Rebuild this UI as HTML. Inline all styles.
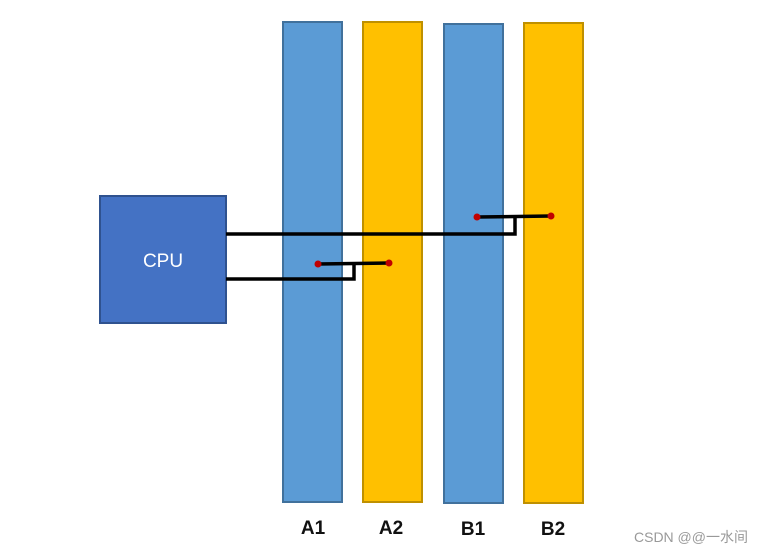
<!DOCTYPE html>
<html><head><meta charset="utf-8"><style>
html,body{margin:0;padding:0;background:#fff;width:769px;height:553px;overflow:hidden}
</style></head><body>
<svg width="769" height="553" xmlns="http://www.w3.org/2000/svg">
<rect x="283" y="22" width="59" height="480" fill="#5b9bd5" stroke="#41719c" stroke-width="2"/>
<rect x="363" y="22" width="59" height="480" fill="#ffc000" stroke="#bf9000" stroke-width="2"/>
<rect x="444" y="24" width="59" height="479" fill="#5b9bd5" stroke="#41719c" stroke-width="2"/>
<rect x="524" y="23" width="59" height="480" fill="#ffc000" stroke="#bf9000" stroke-width="2"/>
<rect x="100" y="196" width="126" height="127" fill="#4472c4" stroke="#2f528f" stroke-width="2"/>
<text x="163" y="267" font-family="Liberation Sans, sans-serif" font-size="19" fill="#fff" text-anchor="middle">CPU</text>
<g fill="none" stroke="#000" stroke-width="3.5">
<polyline points="226,234 515,234 515,217"/>
<line x1="477" y1="217" x2="551" y2="216"/>
<polyline points="226,279 354,279 354,264"/>
<line x1="318" y1="264" x2="389" y2="263"/>
</g>
<g fill="#c00000">
<circle cx="477" cy="217" r="3.5"/><circle cx="551" cy="216" r="3.5"/>
<circle cx="318" cy="264" r="3.5"/><circle cx="389" cy="263" r="3.5"/>
</g>
<g font-family="Liberation Sans, sans-serif" font-size="19" font-weight="bold" fill="#111" text-anchor="middle">
<text x="313" y="534">A1</text><text x="391" y="534">A2</text>
<text x="473" y="535">B1</text><text x="553" y="535">B2</text>
</g>
<text x="634" y="542" font-family="Liberation Sans, 'Noto Sans CJK SC', sans-serif" font-size="14" fill="#999">CSDN @@一水间</text>
</svg>
</body></html>
